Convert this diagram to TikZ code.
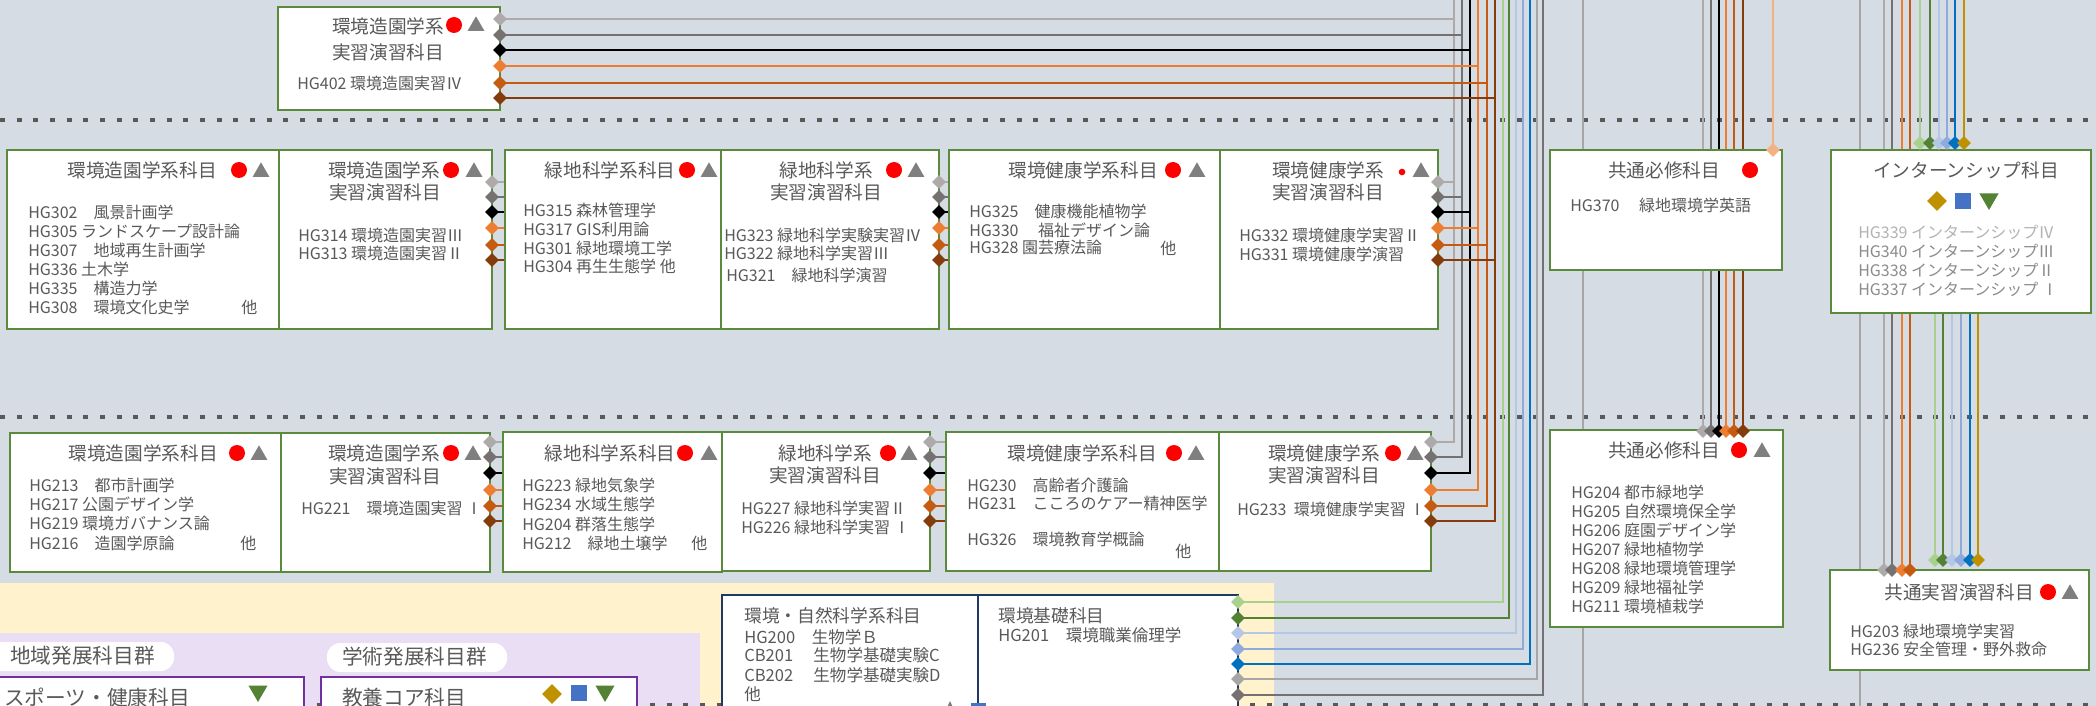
\documentclass[tikz,border=0pt]{standalone}
\usepackage{fontspec}
\setmainfont{Noto Sans CJK JP}
\usetikzlibrary{shapes.geometric,fit}

\definecolor{bgblue}{HTML}{D6DCE4}
\definecolor{cream}{HTML}{FFF2CC}
\definecolor{lavender}{HTML}{E9DEF4}
\definecolor{boxgreen}{HTML}{5A8A3C}
\definecolor{navy}{HTML}{203864}
\definecolor{purp}{HTML}{7030A0}
\definecolor{txt}{HTML}{595959}
\definecolor{intx}{HTML}{8C8C8C}
\definecolor{intl}{HTML}{B3B3B3}
\definecolor{dotc}{HTML}{595959}
\definecolor{lgray}{HTML}{AEAAAA}
\definecolor{dgray}{HTML}{767171}
\definecolor{mgray}{HTML}{A6A6A6}
\definecolor{orng}{HTML}{ED7D31}
\definecolor{dorng}{HTML}{C55A11}
\definecolor{brwn}{HTML}{843C0C}
\definecolor{peach}{HTML}{F4B183}
\definecolor{lgreen}{HTML}{A9D18E}
\definecolor{dgreen}{HTML}{548235}
\definecolor{lblue}{HTML}{B4C7E7}
\definecolor{mblue}{HTML}{8FAADC}
\definecolor{dblue}{HTML}{0070C0}
\definecolor{gold}{HTML}{BF9000}
\definecolor{trigray}{HTML}{7F7F7F}
\definecolor{sqblue}{HTML}{4472C4}

\newcommand{\ttlsize}{\fontsize{14}{16}\selectfont}
\newcommand{\itmsize}{\fontsize{12}{14}\selectfont}
\newcommand{\bigsize}{\fontsize{15.5}{18}\selectfont}
\newcommand{\midsize}{\fontsize{12.4}{15}\selectfont}
\newcommand{\midttl}{\fontsize{13.3}{15}\selectfont}

\tikzset{
  box/.style={draw=boxgreen, line width=1.4pt, fill=white, inner sep=0pt},
  navybox/.style={draw=navy, line width=1.4pt, fill=white, inner sep=0pt},
  purpbox/.style={draw=purp, line width=1.4pt, fill=white, inner sep=0pt},
  ttl/.style={font=\ttlsize, text=txt, inner sep=0pt},
  itm/.style={font=\itmsize, text=txt, inner sep=0pt, anchor=west},
  wire/.style={draw=#1, line width=1.7pt},
  dotrule/.style={draw=dotc, line width=3pt, dash pattern=on 3.75pt off 8.75pt},
  dmd/.style={diamond, fill=#1, inner sep=0pt, minimum width=10.5pt, minimum height=10.5pt},
  redc/.style={circle, fill=red, inner sep=0pt, minimum size=12pt},
  grtri/.style={regular polygon, regular polygon sides=3, fill=trigray, inner sep=0pt, minimum size=14.5pt},
  dntri/.style={regular polygon, regular polygon sides=3, shape border rotate=180, fill=dgreen, inner sep=0pt, minimum size=16.5pt},
  golddmd/.style={diamond, fill=gold, inner sep=0pt, minimum width=15pt, minimum height=15pt},
  bluesq/.style={fill=sqblue, inner sep=0pt, minimum width=11.5pt, minimum height=12.5pt},
  pill/.style={fill=white, rounded corners=10pt, inner sep=0pt},
}

\begin{document}
\begin{tikzpicture}[x=0.75pt,y=-0.75pt]
	\clip (0,0) rectangle (2096,706);
	\fill[bgblue] (0,0) rectangle (2096,706);
	\fill[cream] (0,583) rectangle (1274,706);
	\fill[lavender] (0,633) rectangle (700,706);
	
	\foreach \y in {120,417,705}
		\draw[dotrule] (0,\y) -- (2096,\y);
	
	% lines of the three rows
	\foreach \c/\x/\ya/\yb/\yc [count=\i] in {lgray/1454/19/182/442, dgray/1462/35/197/457, black/1470/50/212/473, orng/1478/66/228/490, dorng/1487/83/245/506, brwn/1495/98/260/521}
	{
		\coordinate (a\i) at (\x,0);
		\coordinate (t\i) at (500,\ya);
		\coordinate (p\i) at (492,\yb);
		\coordinate (q\i) at (939,\yb);
		\coordinate (r\i) at (1438,\yb);
		\coordinate (u\i) at (490,\yc);
		\coordinate (v\i) at (930,\yc);
		\coordinate (w\i) at (1431,\yc);
		\draw[wire=\c] (a\i) |- (w\i);
		\draw[wire=\c] (t\i) -- (t\i -| a\i);
		\draw[wire=\c] (p\i) -- (p\i -| a\i);
		\draw[wire=\c] (u\i) -- (u\i -| a\i);
	}
	
	% lines of the bottom box
	\foreach \c/\x/\y [count=\i] in {lgreen/1503/602, dgreen/1509/618, lblue/1516/633, mblue/1523/649, dblue/1530/664, mgray/1537/679, dgray/1543/695}
	{
		\coordinate (f\i) at (1238,\y);
		\coordinate (fk\i) at (\x,0);
		\draw[wire=\c] (f\i) -| (fk\i);
	}
	
	% through lines
	\coordinate (g1) at (1583,0);
	\coordinate (g1e) at (1583,706);
	\coordinate (g2) at (1860,0);
	\coordinate (g2e) at (1860,706);
	\draw[wire=mgray] (g1) -- (g1e);
	\draw[wire=mgray] (g2) -- (g2e);
	\coordinate (pk) at (1773,0);
	\coordinate (pke) at (1773,150);
	\draw[wire=peach] (pk) -- (pke);
	
	\foreach \c/\x [count=\i] in {lgray/1703, dgray/1711, black/1719, orng/1726, dorng/1734, brwn/1743}
	{
		\coordinate (b\i) at (\x,0);
		\coordinate (bk\i) at (\x,431);
		\draw[wire=\c] (b\i) -- (bk\i);
	}
	\foreach \c/\x [count=\i] in {lgray/1884, dgray/1892, orng/1902, dorng/1910}
	{
		\coordinate (c\i) at (\x,0);
		\coordinate (ck\i) at (\x,570);
		\draw[wire=\c] (c\i) -- (ck\i);
	}
	\foreach \c/\x/\z [count=\i] in {lgreen/1920/1935, dgreen/1930/1943, lblue/1939/1952, mblue/1947/1961, dblue/1955/1970, gold/1964/1978}
	{
		\coordinate (d\i) at (\x,0);
		\coordinate (dk\i) at (\x,143);
		\coordinate (e\i) at (\z,313);
		\coordinate (ek\i) at (\z,560);
		\draw[wire=\c] (d\i) -- (dk\i);
		\draw[wire=\c] (e\i) -- (ek\i);
	}
	
	% boxes
	\node[box, fit={(278,7) (500,110)}] (s402) {};
	\node[box, fit={(7,150) (279,329)}] (m1) {};
	\node[box, fit={(279,150) (492,329)}] (m2) {};
	\node[box, fit={(505,150) (721,329)}] (m3) {};
	\node[box, fit={(721,150) (939,329)}] (m4) {};
	\node[box, fit={(949,150) (1220,329)}] (m5) {};
	\node[box, fit={(1220,150) (1438,329)}] (m6) {};
	\node[box, fit={(1550,150) (1782,270)}] (com1) {};
	\node[box, fit={(1831,150) (2091,313)}] (intern) {};
	\node[box, fit={(10,433) (281,572)}] (l1) {};
	\node[box, fit={(281,433) (490,572)}] (l2) {};
	\node[box, fit={(503,432) (722,572)}] (l3) {};
	\node[box, fit={(722,432) (930,571)}] (l4) {};
	\node[box, fit={(946,432) (1219,571)}] (l5) {};
	\node[box, fit={(1219,432) (1431,571)}] (l6) {};
	\node[box, fit={(1550,430) (1783,627)}] (com2) {};
	\node[box, fit={(1830,570) (2089,670)}] (prac) {};
	\node[navybox, fit={(722,595) (978,730)}] (envsci) {};
	\node[navybox, fit={(978,595) (1238,730)}] (envbase) {};
	\node[purpbox, fit={(-10,677) (304,730)}] (sport) {};
	\node[purpbox, fit={(321,677) (637,730)}] (core) {};
	\node[pill, fit={(-20,642) (174,671)}] (chiiki) {};
	\node[pill, fit={(327,643) (507,672)}] (gakujutsu) {};
	
	% ports
	\foreach \c [count=\i] in {lgray, dgray, black, orng, dorng, brwn}
	{
		\node[dmd=\c] (tn\i) at (t\i) {};
		\node[dmd=\c] (pn\i) at (p\i) {};
		\node[dmd=\c] (qn\i) at (q\i) {};
		\node[dmd=\c] (rn\i) at (r\i) {};
		\node[dmd=\c] (un\i) at (u\i) {};
		\node[dmd=\c] (vn\i) at (v\i) {};
		\node[dmd=\c] (wn\i) at (w\i) {};
		\node[dmd=\c] (bn\i) at (bk\i) {};
	}
	\foreach \c [count=\i] in {lgreen, dgreen, lblue, mblue, dblue, mgray, dgray}
		\node[dmd=\c] (fn\i) at (f\i) {};
	\foreach \c [count=\i] in {lgray, dgray, orng, dorng}
		\node[dmd=\c] (cn\i) at (ck\i) {};
	\foreach \c [count=\i] in {lgreen, dgreen, lblue, mblue, dblue, gold}
	{
		\node[dmd=\c] (dn\i) at (dk\i) {};
		\node[dmd=\c] (en\i) at (ek\i) {};
	}
	\node[dmd=peach] (pkn) at (pke) {};
	
	% top
	\node[ttl] (s402a) at (388,26) {環境造園学系};
	\node[ttl] (s402b) at (388,52) {実習演習科目};
	\node[redc] (s402r) at (454,25) {};
	\node[grtri] (s402g) at (476,26) {};
	\node[itm] (s402i) at (297,83) {HG402 環境造園実習Ⅳ};
	
	% third year
	\node[ttl] (m1a) at (142,170) {環境造園学系科目};
	\node[redc] (m1r) at (239,170) {};
	\node[grtri] (m1g) at (261,172) {};
	\foreach \t [count=\i] in {HG302　風景計画学, HG305 ランドスケープ設計論, HG307　地域再生計画学, HG336 土木学, HG335　構造力学, HG308　環境文化史学}
		\node[itm] (m1i\i) at (28,193+19*\i) {\t};
	\node[itm] (m1x) at (241,307) {他};
	
	\node[ttl] (m2a) at (384,170) {環境造園学系};
	\node[ttl] (m2b) at (385,192) {実習演習科目};
	\node[redc] (m2r) at (451,170) {};
	\node[grtri] (m2g) at (474,172) {};
	\node[itm] (m2i1) at (298,235) {HG314 環境造園実習Ⅲ};
	\node[itm] (m2i2) at (298,253) {HG313 環境造園実習Ⅱ};
	
	\node[ttl] (m3a) at (610,170) {緑地科学系科目};
	\node[redc] (m3r) at (687,170) {};
	\node[grtri] (m3g) at (709,172) {};
	\foreach \t [count=\i] in {HG315 森林管理学, HG317 GIS利用論, HG301 緑地環境工学, HG304 再生生態学 他}
		\node[itm] (m3i\i) at (523,192+18.7*\i) {\t};
	
	\node[ttl] (m4a) at (826,170) {緑地科学系};
	\node[ttl] (m4b) at (826,192) {実習演習科目};
	\node[redc] (m4r) at (894,170) {};
	\node[grtri] (m4g) at (916,172) {};
	\node[itm] (m4i1) at (724,235) {HG323 緑地科学実験実習Ⅳ};
	\node[itm] (m4i2) at (724,253) {HG322 緑地科学実習Ⅲ};
	\node[itm] (m4i3) at (726,275) {HG321　緑地科学演習};
	
	\node[ttl] (m5a) at (1083,170) {環境健康学系科目};
	\node[redc] (m5r) at (1173,170) {};
	\node[grtri] (m5g) at (1197,172) {};
	\node[itm] (m5i1) at (969,211) {HG325　健康機能植物学};
	\node[itm] (m5i2) at (969,230) {HG330　 福祉デザイン論};
	\node[itm] (m5i3) at (969,248) {HG328 園芸療法論};
	\node[itm] (m5x) at (1160,248) {他};
	
	\node[ttl] (m6a) at (1328,170) {環境健康学系};
	\node[ttl] (m6b) at (1328,192) {実習演習科目};
	\node[circle, fill=red, inner sep=0pt, minimum size=5pt] (m6r) at (1402,172) {};
	\node[grtri] (m6g) at (1421,172) {};
	\node[itm] (m6i1) at (1239,235) {HG332 環境健康学実習Ⅱ};
	\node[itm] (m6i2) at (1239,254) {HG331 環境健康学演習};
	
	\node[ttl] (com1a) at (1664,170) {共通必修科目};
	\node[redc] (com1r) at (1750,170) {};
	\node[itm] (com1i) at (1570,205) {HG370　 緑地環境学英語};
	
	\node[ttl] (interna) at (1966,170) {インターンシップ科目};
	\node[golddmd] (interng) at (1937,201) {};
	\node[bluesq] (internb) at (1963,201) {};
	\node[dntri] (interno) at (1989,199) {};
	\node[itm, text=intl] (interni1) at (1858,232) {HG339 インターンシップⅣ};
	\node[itm, text=intx] (interni2) at (1858,251) {HG340 インターンシップⅢ};
	\node[itm, text=intx] (interni3) at (1858,270) {HG338 インターンシップⅡ};
	\node[itm, text=intx] (interni4) at (1858,289) {HG337 インターンシップ Ⅰ};
	
	% second year
	\node[ttl] (l1a) at (143,453) {環境造園学系科目};
	\node[redc] (l1r) at (237,453) {};
	\node[grtri] (l1g) at (259,455) {};
	\foreach \t [count=\i] in {HG213　都市計画学, HG217 公園デザイン学, HG219 環境ガバナンス論, HG216　造園学原論}
		\node[itm] (l1i\i) at (29,466+19.3*\i) {\t};
	\node[itm] (l1x) at (240,543) {他};
	
	\node[ttl] (l2a) at (384,453) {環境造園学系};
	\node[ttl] (l2b) at (385,476) {実習演習科目};
	\node[redc] (l2r) at (451,453) {};
	\node[grtri] (l2g) at (473,455) {};
	\node[itm] (l2i) at (301,508) {HG221　環境造園実習 Ⅰ};
	
	\node[ttl] (l3a) at (610,453) {緑地科学系科目};
	\node[redc] (l3r) at (685,453) {};
	\node[grtri] (l3g) at (709,455) {};
	\foreach \t [count=\i] in {HG223 緑地気象学, HG234 水域生態学, HG204 群落生態学, HG212　緑地土壌学}
		\node[itm] (l3i\i) at (522,466+19.3*\i) {\t};
	\node[itm] (l3x) at (691,543) {他};
	
	\node[ttl] (l4a) at (825,453) {緑地科学系};
	\node[ttl] (l4b) at (825,475) {実習演習科目};
	\node[redc] (l4r) at (888,453) {};
	\node[grtri] (l4g) at (909,455) {};
	\node[itm] (l4i1) at (741,508) {HG227 緑地科学実習Ⅱ};
	\node[itm] (l4i2) at (741,527) {HG226 緑地科学実習 Ⅰ};
	
	\node[ttl] (l5a) at (1082,453) {環境健康学系科目};
	\node[redc] (l5r) at (1174,453) {};
	\node[grtri] (l5g) at (1196,455) {};
	\node[itm] (l5i1) at (967,485) {HG230　高齢者介護論};
	\node[itm] (l5i2) at (967,503) {HG231　こころのケアー精神医学};
	\node[itm] (l5i3) at (967,539) {HG326　環境教育学概論};
	\node[itm] (l5x) at (1175,551) {他};
	
	\node[ttl] (l6a) at (1324,453) {環境健康学系};
	\node[ttl] (l6b) at (1324,475) {実習演習科目};
	\node[redc] (l6r) at (1393,453) {};
	\node[grtri] (l6g) at (1415,455) {};
	\node[itm] (l6i) at (1237,509) {HG233 \ 環境健康学実習 Ⅰ};
	
	\node[ttl] (com2a) at (1664,450) {共通必修科目};
	\node[redc] (com2r) at (1739,450) {};
	\node[grtri] (com2g) at (1762,452) {};
	\foreach \t [count=\i] in {HG204 都市緑地学, HG205 自然環境保全学, HG206 庭園デザイン学, HG207 緑地植物学, HG208 緑地環境管理学, HG209 緑地福祉学, HG211 環境植栽学}
		\node[itm] (com2i\i) at (1571,473+19*\i) {\t};
	
	\node[ttl] (praca) at (1959,592) {共通実習演習科目};
	\node[redc] (pracr) at (2048,592) {};
	\node[grtri] (pracg) at (2070,594) {};
	\node[itm] (praci1) at (1850,631) {HG203 緑地環境学実習};
	\node[itm] (praci2) at (1850,649) {HG236 安全管理・野外救命};
	
	% first year
	\node[ttl, font=\midttl, anchor=west] (envscia) at (744,616) {環境・自然科学系科目};
	\foreach \t/\y [count=\i] in {HG200　生物学Ｂ/637, CB201　 生物学基礎実験C/655, CB202　 生物学基礎実験D/675, 他/694}
		\node[itm, font=\midsize] (envscii\i) at (744,\y) {\t};
	\node[ttl, font=\midttl, anchor=west] (envbasea) at (998,616) {環境基礎科目};
	\node[itm, font=\midsize] (envbasei) at (998,635) {HG201　環境職業倫理学};
	\fill[trigray] (944,714) -- (950,701) -- (956,714) -- cycle;
	\fill[sqblue] (971,703) rectangle (986,714);
	
	\node[ttl, font=\bigsize, anchor=west] (chiikia) at (10,656) {地域発展科目群};
	\node[ttl, font=\bigsize, anchor=west] (gakujutsua) at (342,657) {学術発展科目群};
	\node[ttl, font=\bigsize, anchor=west] (sporta) at (4,698) {スポーツ・健康科目};
	\node[dntri] (sporto) at (258,691) {};
	\node[ttl, font=\bigsize, anchor=west] (corea) at (342,698) {教養コア科目};
	\node[golddmd] (coreg) at (552,694) {};
	\node[bluesq] (coreb) at (579,693) {};
	\node[dntri] (coreo) at (605,691) {};
	
\end{tikzpicture}
\end{document}
